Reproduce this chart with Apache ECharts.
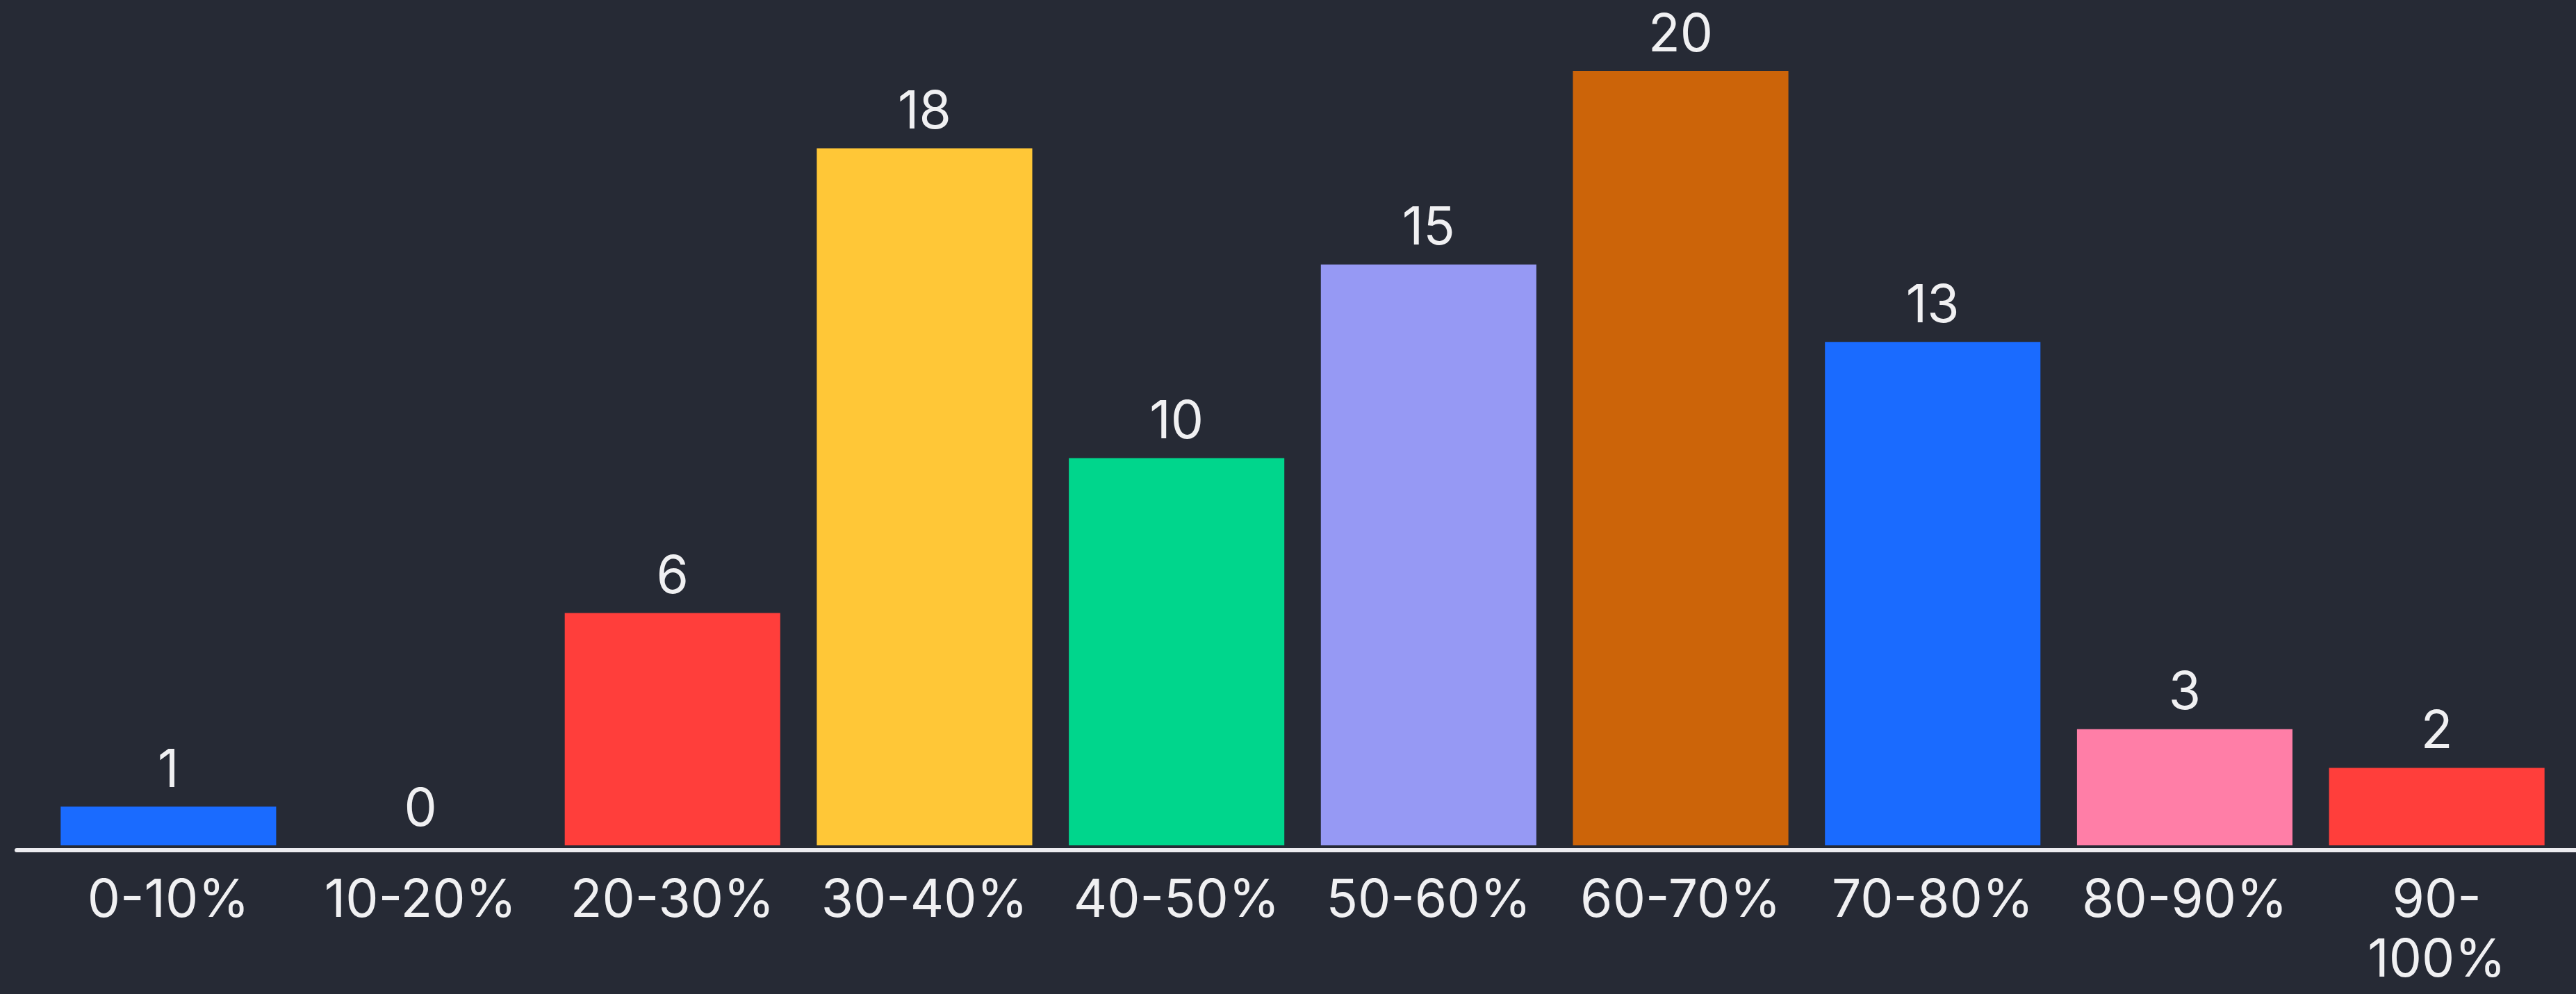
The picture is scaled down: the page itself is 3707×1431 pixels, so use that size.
<!DOCTYPE html>
<html>
<head>
<meta charset="utf-8">
<script src="https://cdn.jsdelivr.net/npm/echarts@6/dist/echarts.min.js"></script>
<style>
html,body{margin:0;padding:0;background:#262a35;}
#chart{width:3707px;height:1431px;}
</style>
</head>
<body>
<div id="chart"></div>
<script>
const categories = ['0-10%','10-20%','20-30%','30-40%','40-50%','50-60%','60-70%','70-80%','80-90%','90-\n100%'];
const counts = [1,0,6,18,10,15,20,13,3,2];
const barColors = ['#1a6bff','#1a6bff','#ff3e3b','#ffc737','#00d68c','#9699f4','#cc6409','#1a6bff','#ff7ea7','#ff3e3b'];

const chart = echarts.init(document.getElementById('chart'));
const font = 'Inter, "Noto Sans", sans-serif';
chart.setOption({
  backgroundColor: '#262a35',
  animation: false,
  grid: [
    {left: 61, right: 19, top: 102, bottom: 214},
    {left: 24, right: 0, top: 102, bottom: 207}
  ],
  xAxis: [
    {
      type: 'category', gridIndex: 0, data: categories,
      axisLine: {show: false}, axisTick: {show: false},
      axisLabel: {color: '#f0f0f2', fontSize: 75, lineHeight: 86, fontFamily: font, margin: 37, interval: 0}
    },
    {
      type: 'value', gridIndex: 1, min: 0, max: 1,
      axisLine: {show: true, lineStyle: {color: '#ececf0', width: 6}},
      axisTick: {show: false}, axisLabel: {show: false}, splitLine: {show: false}
    }
  ],
  yAxis: [
    {type: 'value', gridIndex: 0, min: 0, max: 20, show: false, splitLine: {show: false}},
    {type: 'value', gridIndex: 1, min: 0, max: 1, show: false, splitLine: {show: false}}
  ],
  series: [{
    type: 'bar',
    xAxisIndex: 0, yAxisIndex: 0,
    barCategoryGap: '14.5%',
    data: counts.map((v, i) => ({value: v, itemStyle: {color: barColors[i]}})),
    label: {
      show: true, position: 'top', distance: 8,
      color: '#f0f0f2', fontSize: 75, lineHeight: 86, fontFamily: font
    }
  }]
});
</script>
</body>
</html>
